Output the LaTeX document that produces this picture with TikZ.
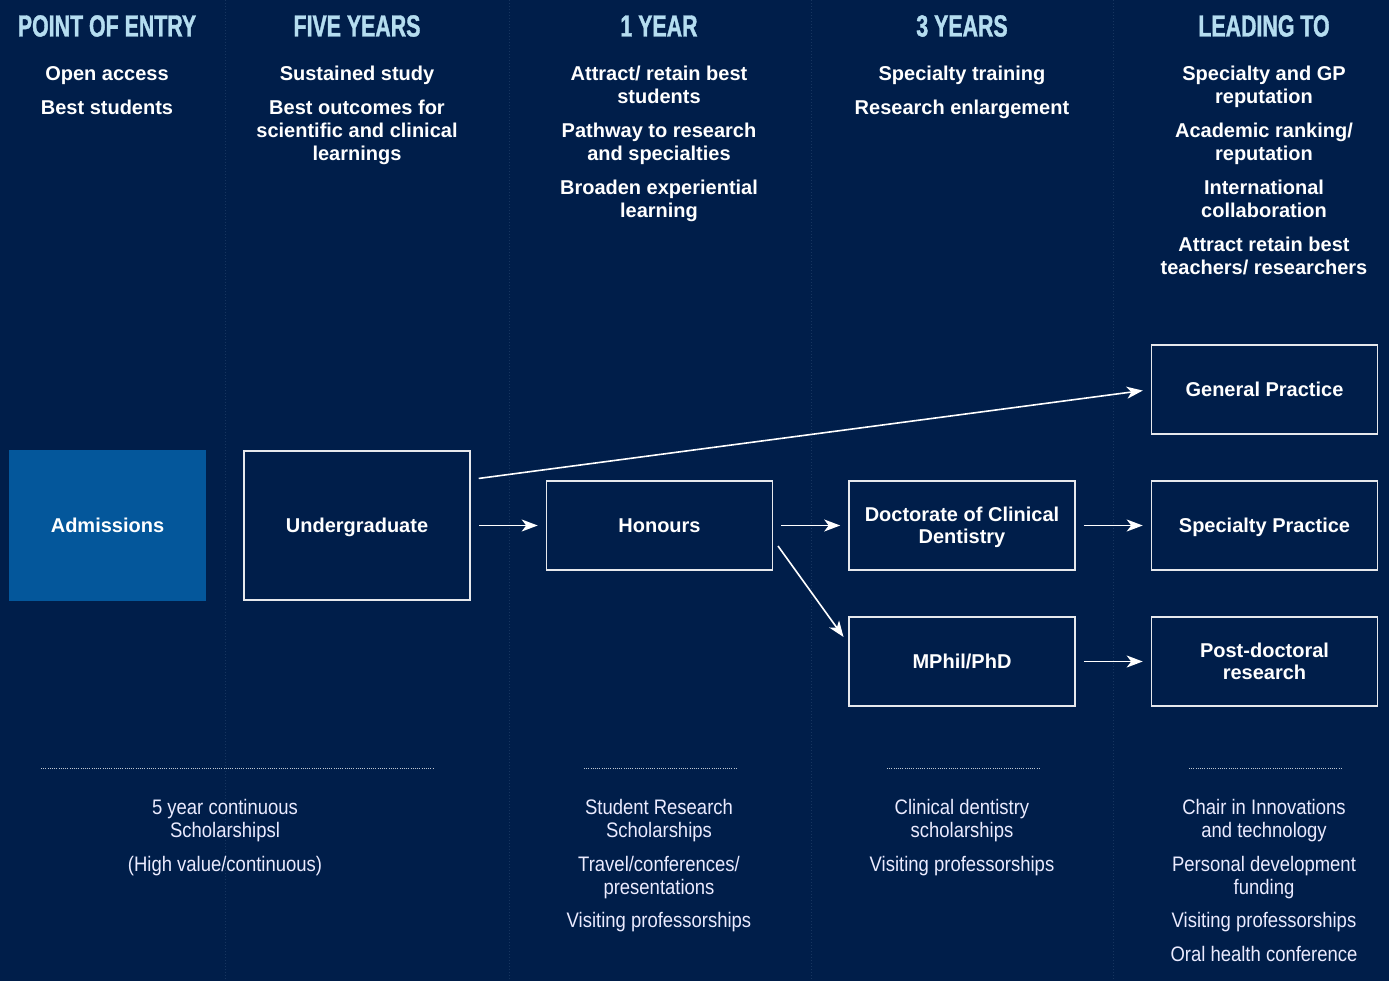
\documentclass[tikz,border=0pt]{standalone}
\usepackage{fontspec}
\setmainfont{Liberation Sans}
\newfontfamily\headfont[FakeStretch=0.7,FakeBold=1.2]{Liberation Sans Bold}
\newfontfamily\lightfont[FakeStretch=0.88]{Liberation Sans}
\usetikzlibrary{arrows.meta,calc}
\definecolor{bg}{HTML}{001E4A}
\definecolor{admblue}{HTML}{04579B}
\definecolor{headblue}{HTML}{B5DDF0}
\definecolor{sepcol}{HTML}{17355F}
\definecolor{boxline}{HTML}{E6E8EC}
\begin{document}
\begin{tikzpicture}[x=1pt,y=-1pt,
  hdr/.style={font=\headfont\fontsize{30.5}{32}\selectfont, text=headblue, inner sep=0pt, anchor=center},
  toptxt/.style={font=\bfseries\fontsize{20}{23}\selectfont, text=white, align=center, inner sep=0pt, anchor=north},
  bottxt/.style={font=\lightfont\fontsize{21}{23}\selectfont, text=white!92!blue, align=center, inner sep=0pt, anchor=north},
  stage/.style={draw=boxline, line width=1.6pt, minimum width=226pt, minimum height=89pt, inner sep=0pt, text depth=0pt, align=center, text=white, font=\bfseries\fontsize{20}{22}\selectfont},
  arr/.style={draw=white, line width=1.6pt, -{Stealth[length=16pt,width=12pt,inset=4.5pt]}, shorten <=8pt, shorten >=8pt},
  colsep/.style={draw=sepcol, line width=0.8pt, dash pattern=on 1pt off 2pt},
  rulel/.style={draw=white!75!bg, line width=0.9pt, dash pattern=on 1pt off 1.2pt}]
\fill[bg] (0,0) rectangle (1389,981);
\useasboundingbox (0,0) rectangle (1389,981);
% column separators
\foreach \xx in {225,509,811,1113}{\draw[colsep] (\xx,0) -- (\xx,981);}
% headers
\node[hdr] (h1) at (107,26) {POINT OF ENTRY};
\node[hdr] (h2) at (357,26) {FIVE YEARS};
\node[hdr] (h3) at (659,26) {1 YEAR};
\node[hdr] (h4) at (962,26) {3 YEARS};
\node[hdr] (h5) at (1264,26) {LEADING TO};
% top texts
\node[toptxt] (t1) at (107,66) {Open access\\[11pt]Best students};
\node[toptxt] (t2) at (357,66) {Sustained study\\[11pt]Best outcomes for\\scientific and clinical\\learnings};
\node[toptxt] (t3) at (659,66) {Attract/ retain best\\students\\[11pt]Pathway to research\\and specialties\\[11pt]Broaden experiential\\learning};
\node[toptxt] (t4) at (962,66) {Specialty training\\[11pt]Research enlargement};
\node[toptxt] (t5) at (1264,66) {Specialty and GP\\reputation\\[11pt]Academic ranking/\\reputation\\[11pt]International\\collaboration\\[11pt]Attract retain best\\teachers/ researchers};
% boxes
\node[fill=admblue, minimum width=197pt, minimum height=151pt, inner sep=0pt, text depth=0pt, text=white, font=\bfseries\fontsize{20}{22}\selectfont] (adm) at (107.5,525.5) {Admissions};
\node[stage, minimum height=149pt] (ug) at (357,525.5) {Undergraduate};
\node[stage] (hon) at (659.5,525.5) {Honours};
\node[stage] (dcd) at (962,525.5) {Doctorate of Clinical\\Dentistry};
\node[stage] (mph) at (962,661.5) {MPhil/PhD};
\node[stage] (gp) at (1264.5,389.5) {General Practice};
\node[stage] (sp) at (1264.5,525.5) {Specialty Practice};
\node[stage] (pd) at (1264.5,661.5) {Post-doctoral\\research};
% arrows
\draw[arr] (ug.east) -- (hon.west);
\draw[arr] ([yshift=46pt]ug.east) -- (gp.west);
\draw[arr] (hon.east) -- (dcd.west);
\draw[arr] ([yshift=-14pt]hon.east) -- ([yshift=18pt]mph.west);
\draw[arr] (dcd.east) -- (sp.west);
\draw[arr] (mph.east) -- (pd.west);
% bottom rules
\draw[rulel] (41,768) -- (434,768);
\draw[rulel] (584,768) -- (736,768);
\draw[rulel] (887,768) -- (1039,768);
\draw[rulel] (1189,768) -- (1341,768);
% bottom texts
\node[bottxt] (b1) at (225,799) {5 year continuous\\Scholarshipsl\\[11pt](High value/continuous)};
\node[bottxt] (b3) at (659,799) {Student Research\\Scholarships\\[11pt]Travel/conferences/\\presentations\\[10pt]Visiting professorships};
\node[bottxt] (b4) at (962,799) {Clinical dentistry\\scholarships\\[11pt]Visiting professorships};
\node[bottxt] (b5) at (1264,799) {Chair in Innovations\\and technology\\[11pt]Personal development\\funding\\[10pt]Visiting professorships\\[11pt]Oral health conference};
\end{tikzpicture}
\end{document}
